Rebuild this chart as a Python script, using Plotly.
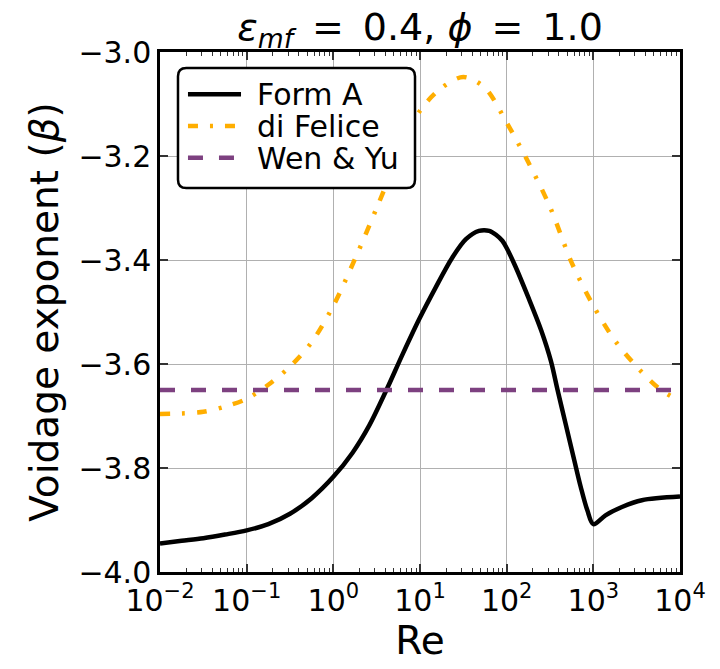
import plotly.graph_objects as go

# Reynolds-number sample points, as log10(Re)
form_a_logre = [-2.0, -1.75, -1.5, -1.25, -1.0, -0.75, -0.5, -0.25, 0.0, 0.22, 0.415,
                0.61, 0.8, 0.99, 1.18, 1.37, 1.53, 1.68, 1.8, 1.88, 1.95, 2.0, 2.1,
                2.25, 2.4, 2.51, 2.586, 2.68, 2.78, 2.854, 2.93, 3.0, 3.14, 3.33,
                3.56, 4.0]
form_a_beta = [-3.945, -3.940, -3.935, -3.928, -3.920, -3.908, -3.888, -3.858, -3.817,
               -3.771, -3.718, -3.651, -3.581, -3.514, -3.453, -3.396, -3.36, -3.344,
               -3.344, -3.352, -3.363, -3.377, -3.412, -3.472, -3.536, -3.594, -3.649,
               -3.715, -3.785, -3.836, -3.881, -3.908, -3.891, -3.875, -3.862, -3.855]

felice_logre = [-2.0, -1.75, -1.5, -1.25, -1.0, -0.75, -0.5, -0.25, 0.0, 0.25, 0.5,
                0.75, 1.0, 1.25, 1.5, 1.75, 2.0, 2.25, 2.5, 2.75, 3.0, 3.25, 3.5,
                3.75, 4.0]
felice_beta = [-3.696, -3.695, -3.692, -3.682, -3.667, -3.640, -3.605, -3.558, -3.488,
               -3.398, -3.30, -3.20, -3.113, -3.069, -3.048, -3.069, -3.136, -3.212,
               -3.298, -3.405, -3.488, -3.555, -3.605, -3.646, -3.672]

wen_yu_logre = [-2.0, 4.0]
wen_yu_beta = [-3.65, -3.65]

series_names = ["Form A", "di Felice", "Wen & Yu"]

x_tick_exps = [-2, -1, 0, 1, 2, 3, 4]
x_tick_text = ["10<sup>\u22122</sup>", "10<sup>\u22121</sup>", "10<sup>0</sup>",
               "10<sup>1</sup>", "10<sup>2</sup>", "10<sup>3</sup>", "10<sup>4</sup>"]
y_ticks = [-4.0, -3.8, -3.6, -3.4, -3.2, -3.0]
y_tick_text = ["\u22124.0", "\u22123.8", "\u22123.6", "\u22123.4", "\u22123.2", "\u22123.0"]

FONT = "DejaVu Sans"
BLACK = "black"
ORANGE = "#FFAE00"
PURPLE = "#7D4180"
styles = [
    dict(color=BLACK, width=4.5, dash="solid"),
    dict(color=ORANGE, width=4.5, dash="10px,12px,3px,12px"),
    dict(color=PURPLE, width=4.5, dash="15px,16px"),
]


def re_values(exps):
    return [10.0 ** e for e in exps]


fig = go.Figure()
series = [(form_a_logre, form_a_beta), (felice_logre, felice_beta),
          (wen_yu_logre, wen_yu_beta)]
for (lx, by), name, st in zip(series, series_names, styles):
    fig.add_trace(go.Scatter(x=re_values(lx), y=by, mode="lines", name=name,
                             line=dict(shape="spline", smoothing=0.9, **st),
                             showlegend=False))

axis_common = dict(showline=True, linecolor=BLACK, linewidth=2.5, mirror="ticks",
                   ticks="inside", ticklen=8, tickwidth=1.5, tickcolor="#333",
                   showgrid=True, gridcolor="#b0b0b0", gridwidth=1, zeroline=False,
                   tickfont=dict(family=FONT, size=30, color=BLACK))

fig.update_xaxes(type="log", range=[-2, 4], tickvals=re_values(x_tick_exps),
                 ticktext=x_tick_text,
                 minor=dict(ticks="inside", ticklen=4, tickwidth=1, tickcolor="#333",
                            dtick="D1", showgrid=False),
                 title=dict(text="Re", font=dict(family=FONT, size=39, color=BLACK),
                            standoff=6),
                 **axis_common)
fig.update_yaxes(range=[-4.0, -3.0], tickvals=y_ticks, ticktext=y_tick_text,
                 title=dict(text="Voidage exponent (<i>\u03b2</i>)",
                            font=dict(family=FONT, size=39, color=BLACK), standoff=8),
                 **axis_common)

# Legend box with rounded corners, drawn in paper coordinates
bx0, bx1, by0, by1, r = 0.0346, 0.4904, 0.7385, 0.9692, 0.016
box_path = (f"M {bx0 + r},{by1} L {bx1 - r},{by1} Q {bx1},{by1} {bx1},{by1 - r} "
            f"L {bx1},{by0 + r} Q {bx1},{by0} {bx1 - r},{by0} L {bx0 + r},{by0} "
            f"Q {bx0},{by0} {bx0},{by0 + r} L {bx0},{by1 - r} Q {bx0},{by1} {bx0 + r},{by1} Z")
fig.add_shape(type="path", path=box_path, xref="paper", yref="paper",
              fillcolor="white", line=dict(color=BLACK, width=2.5), layer="above")

row_y = [0.9187, 0.8577, 0.7967]
for yy, name, st in zip(row_y, series_names, styles):
    fig.add_shape(type="line", xref="paper", yref="paper", x0=0.0538, x1=0.1558,
                  y0=yy, y1=yy, line=st, layer="above")
    fig.add_annotation(text=name, xref="paper", yref="paper", x=0.1846, y=yy,
                       xanchor="left", yanchor="middle", showarrow=False,
                       height=30, valign="middle", borderpad=0,
                       font=dict(family=FONT, size=30, color=BLACK))

fig.update_layout(
    width=720, height=669,
    margin=dict(l=160, r=40, t=52, b=97),
    paper_bgcolor="white", plot_bgcolor="white",
    font=dict(family=FONT, color=BLACK),
    title=dict(text="<i>\u03b5</i><sub><i>mf</i></sub>\u2002=\u20020.4, <i>\u03d5</i>\u2002=\u20021.0",
               x=0.5, xref="paper", xanchor="center", y=0.96, yanchor="middle",
               font=dict(family=FONT, size=38, color=BLACK)),
    showlegend=False,
)

fig.write_html("out.html")
